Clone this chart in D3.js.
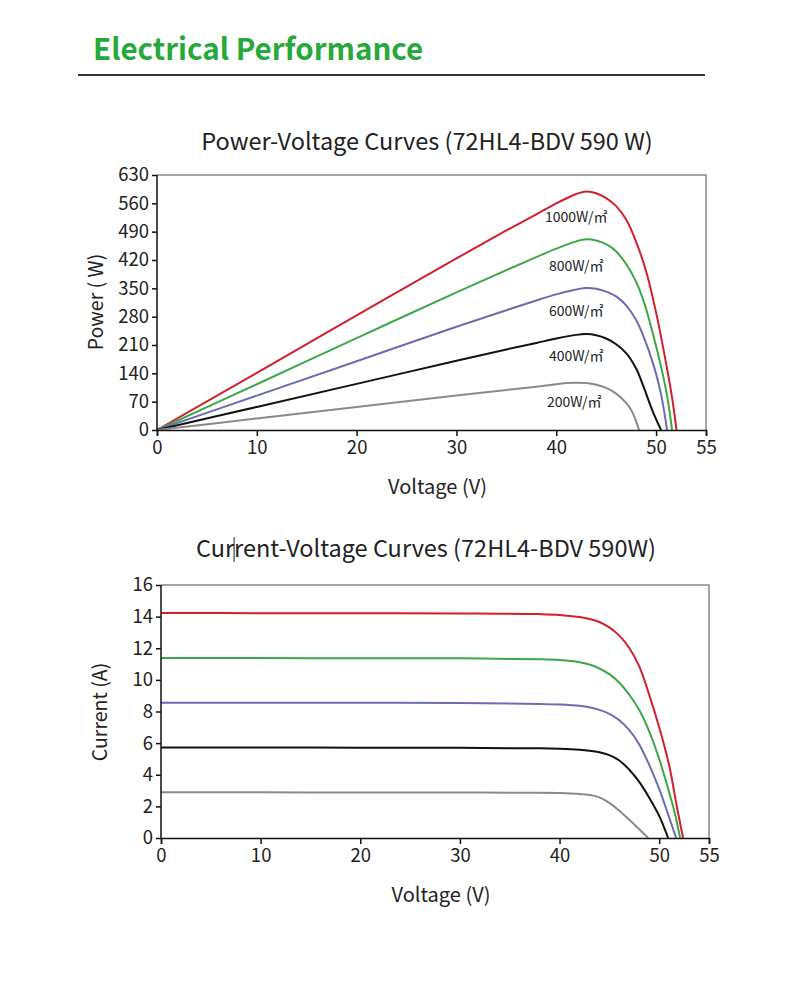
<!DOCTYPE html>
<html>
<head>
<meta charset="utf-8">
<script src="https://cdn.jsdelivr.net/npm/d3@7"></script>
<style>
  body { margin: 0; background: #fff; }
  svg text { font-family: "Noto Sans CJK SC", "Source Sans Pro", "Noto Sans", sans-serif; fill: #222; }
</style>
</head>
<body>
<svg id="chart" width="800" height="1000"></svg>
<script>
// irradiance levels, one series per level
const levels = ['1000W/㎡', '800W/㎡', '600W/㎡', '400W/㎡', '200W/㎡'];
const colors = ['#d0202e', '#3aa845', '#6c6cb0', '#111111', '#8a8a8a'];

// Power-voltage curves: [V, P]
const pv1000 = [[0,0],[10,141],[20,283],[30,424],[35,493],[38,533],[40,560],[41,572],[42,583],[43,589],[44,585],[45,573],[46,553],[47,520],[48,465],[49,392],[50,290],[51,165],[51.6,80],[52.05,0]];
const pv800  = [[0,0],[10,113],[20,227],[30,340],[35,395],[38,427],[40,448],[42,466],[43,471],[44,468],[45,459],[46,441],[47,410],[48,366],[48.8,315],[49.6,245],[50.5,156],[51.1,85],[51.6,0]];
const pv600  = [[0,0],[10,85],[20,170],[30,255],[35,296],[38,320],[40,335],[42,347],[43,351],[44,349],[45,342],[46,330],[47,308],[48,272],[48.7,234],[49.8,156],[50.5,88],[51.1,0]];
const pv400  = [[0,0],[10,57],[20,114],[30,171],[35,199],[38,215],[40,226],[42,235],[43,237],[44,234],[45,226],[46,212],[47,190],[48,152],[48.7,110],[49.6,50],[50.5,0]];
const pv200  = [[0,0],[10,28.5],[20,57],[30,85],[35,99],[38,107],[40,113],[41,116],[42,117],[43,116],[44,112],[45,104],[46,90],[47,67],[47.6,45],[48.3,0]];
const pvSeries = [pv1000, pv800, pv600, pv400, pv200];

// label anchors for the P-V chart: [V, P]
const pvLabelAt = [[42, 515], [42, 392], [42, 282], [42, 171], [41.8, 56]];

// Current-voltage curves: [V, I]
const iv1000 = [[0,14.23],[10,14.22],[20,14.21],[30,14.2],[38,14.16],[40,14.11],[42,13.97],[43,13.85],[44,13.66],[45,13.32],[46,12.8],[47,12.02],[48,10.85],[49,9.05],[50,7.0],[51,4.6],[51.8,1.9],[52.4,0]];
const iv800  = [[0,11.39],[10,11.38],[20,11.37],[30,11.36],[38,11.3],[40,11.25],[42,11.12],[43,10.97],[44,10.72],[45,10.36],[46,9.82],[47,9.06],[48,8.1],[49,6.75],[50,5.0],[51,2.9],[51.6,1.5],[52.1,0]];
const iv600  = [[0,8.56],[10,8.56],[20,8.55],[30,8.53],[38,8.48],[40,8.44],[42,8.36],[43,8.27],[44,8.1],[45,7.85],[46,7.45],[47,6.82],[48,5.92],[49,4.62],[50,3.1],[51,1.3],[51.7,0]];
const iv400  = [[0,5.72],[10,5.72],[20,5.71],[30,5.7],[38,5.67],[40,5.64],[42,5.58],[43,5.52],[44,5.42],[45,5.24],[46,4.9],[47,4.32],[48,3.55],[49,2.55],[50,1.4],[50.9,0]];
const iv200  = [[0,2.89],[10,2.89],[20,2.88],[30,2.88],[38,2.86],[40,2.84],[41,2.82],[42,2.79],[43,2.72],[44,2.57],[45,2.22],[46,1.72],[47,1.15],[48,0.55],[48.9,0]];
const ivSeries = [iv1000, iv800, iv600, iv400, iv200];

const pvTicksY = [0, 70, 140, 210, 280, 350, 420, 490, 560, 630];
const ivTicksY = [0, 2, 4, 6, 8, 10, 12, 14, 16];
const voltTicks = [0, 10, 20, 30, 40, 50, 55];

const svg = d3.select('#chart');

// page header
svg.append('text')
  .attr('x', 93).attr('y', 60)
  .attr('font-size', 29.5).attr('font-weight', 700)
  .style('fill', '#27a83a')
  .text('Electrical Performance');
svg.append('line')
  .attr('x1', 78).attr('x2', 705).attr('y1', 75).attr('y2', 75)
  .attr('stroke', '#333').attr('stroke-width', 2);

function drawPanel(opts) {
  const x = d3.scaleLinear().domain([0, 55]).range([opts.left, opts.right]);
  const y = d3.scaleLinear().domain([0, opts.yMax]).range([opts.bottom, opts.top]);
  const g = svg.append('g');

  // gray frame on top and right
  g.append('path')
    .attr('d', `M${opts.left},${opts.top}H${opts.right}V${opts.bottom}`)
    .attr('fill', 'none').attr('stroke', '#888').attr('stroke-width', 1.5);

  // curves
  const line = d3.line().x(d => x(d[0])).y(d => y(d[1])).curve(d3.curveCatmullRom.alpha(0.5));
  g.selectAll('path.curve')
    .data(opts.series)
    .join('path')
      .attr('class', 'curve')
      .attr('fill', 'none')
      .attr('stroke', (d, i) => colors[i])
      .attr('stroke-width', 2)
      .attr('d', line);

  // axes
  const xAxis = g.append('g')
    .attr('transform', `translate(0,${opts.bottom})`)
    .call(d3.axisBottom(x).tickValues(voltTicks).tickSize(6).tickPadding(5));
  const yAxis = g.append('g')
    .attr('transform', `translate(${opts.left},0)`)
    .call(d3.axisLeft(y).tickValues(opts.ticksY).tickSize(5).tickPadding(3));
  [xAxis, yAxis].forEach(a => {
    a.attr('font-size', null).attr('font-family', null);
    a.selectAll('path, line').attr('stroke', '#111').attr('stroke-width', 1.5);
    a.selectAll('text').style('font-size', '18.5px').style('fill', '#222');
  });
  yAxis.select('.domain').attr('d', `M0,${opts.top}V${opts.bottom}`);

  // titles
  const t = g.append('text')
    .attr('x', opts.titleX).attr('y', opts.titleY)
    .attr('text-anchor', 'middle').attr('font-size', 23.5)
    .text(opts.title);
  g.append('text')
    .attr('x', (opts.left + opts.right) / 2 + 6).attr('y', opts.bottom + 64)
    .attr('text-anchor', 'middle').attr('font-size', 20)
    .text('Voltage (V)');
  g.append('text')
    .attr('transform', `translate(${opts.left - 54},${opts.yLabelMid}) rotate(-90)`)
    .attr('text-anchor', 'middle').attr('font-size', 19.5)
    .text(opts.yLabel);
  return { x, y, g, t };
}

const pv = drawPanel({
  left: 157, right: 706, top: 175, bottom: 430, yMax: 630,
  ticksY: pvTicksY, series: pvSeries,
  title: 'Power-Voltage Curves (72HL4-BDV 590 W)', titleX: 427, titleY: 150,
  yLabel: 'Power ( W)', yLabelMid: 302
});

pv.g.selectAll('text.level')
  .data(levels)
  .join('text')
    .attr('class', 'level')
    .attr('x', (d, i) => pv.x(pvLabelAt[i][0]))
    .attr('y', (d, i) => pv.y(pvLabelAt[i][1]))
    .attr('text-anchor', 'middle')
    .attr('font-size', 14)
    .text(d => d);

const iv = drawPanel({
  left: 161, right: 709, top: 585, bottom: 838, yMax: 16,
  ticksY: ivTicksY, series: ivSeries,
  title: 'Current-Voltage Curves (72HL4-BDV 590W)', titleX: 426, titleY: 557,
  yLabel: 'Current (A)', yLabelMid: 712
});

// stray text cursor after "Cur" in the lower title
const node = iv.t.node();
const startX = node.getStartPositionOfChar(0).x;
const cx = startX + node.getSubStringLength(0, 3);
iv.g.append('line')
  .attr('x1', cx).attr('x2', cx).attr('y1', 537).attr('y2', 562)
  .attr('stroke', '#222').attr('stroke-width', 1);
</script>
</body>
</html>
